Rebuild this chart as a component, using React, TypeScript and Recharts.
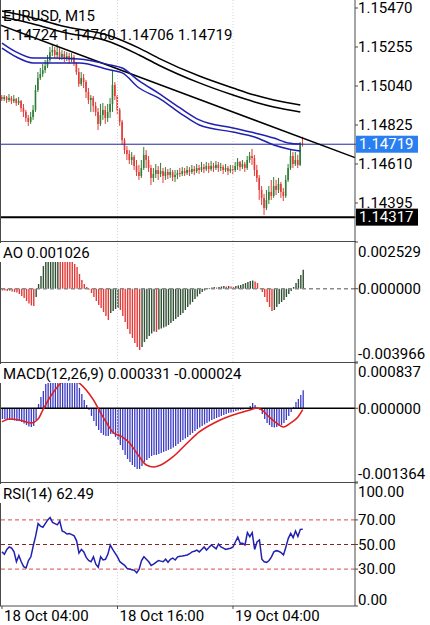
import React from 'react';
import { ComposedChart, Bar, Line, XAxis, YAxis, ReferenceLine, Cell } from 'recharts';

// EURUSD M15, bar 0 = 18 Oct 04:00
const closes = [
  1.14968, 1.14979, 1.14963, 1.14974, 1.14957, 1.14968, 1.14946, 1.14957, 1.14919, 1.14897,
  1.14864, 1.14842, 1.14869, 1.14908, 1.15018, 1.15084, 1.15106, 1.15128, 1.15150, 1.15183,
  1.15227, 1.15238, 1.15211, 1.15227, 1.15200, 1.15216, 1.15194, 1.15205, 1.15183, 1.15200,
  1.15167, 1.15117, 1.15051, 1.15084, 1.15062, 1.15007, 1.14963, 1.14974, 1.14930, 1.14897,
  1.14831, 1.14880, 1.14908, 1.14864, 1.14897, 1.14941, 1.15046, 1.14985, 1.14908, 1.14842,
  1.14742, 1.14687, 1.14665, 1.14632, 1.14649, 1.14599, 1.14566, 1.14544, 1.14588, 1.14660,
  1.14632, 1.14588, 1.14533, 1.14555, 1.14577, 1.14555, 1.14571, 1.14544, 1.14566, 1.14549,
  1.14566, 1.14538, 1.14549, 1.14560, 1.14555, 1.14571, 1.14560, 1.14577, 1.14566, 1.14582,
  1.14571, 1.14588, 1.14577, 1.14593, 1.14582, 1.14599, 1.14582, 1.14599, 1.14588, 1.14605,
  1.14588, 1.14593, 1.14577, 1.14588, 1.14571, 1.14582, 1.14577, 1.14599, 1.14621, 1.14593,
  1.14610, 1.14588, 1.14632, 1.14654, 1.14643, 1.14577, 1.14533, 1.14467, 1.14423, 1.14367,
  1.14412, 1.14456, 1.14434, 1.14489, 1.14467, 1.14500, 1.14456, 1.14434, 1.14522, 1.14588,
  1.14654, 1.14610, 1.14632, 1.14605, 1.14724, 1.14719,
];
const highs = [
  1.14990, 1.14990, 1.14985, 1.14996, 1.14985, 1.14990, 1.14974, 1.14979, 1.14963, 1.14941,
  1.14908, 1.14880, 1.14897, 1.14935, 1.15046, 1.15117, 1.15139, 1.15161, 1.15183, 1.15211,
  1.15255, 1.15266, 1.15255, 1.15271, 1.15249, 1.15238, 1.15233, 1.15227, 1.15222, 1.15222,
  1.15211, 1.15172, 1.15139, 1.15117, 1.15106, 1.15073, 1.15029, 1.14990, 1.14985, 1.14952,
  1.14919, 1.14941, 1.14946, 1.14930, 1.14941, 1.14974, 1.15128, 1.15062, 1.14990, 1.14919,
  1.14853, 1.14753, 1.14709, 1.14687, 1.14676, 1.14660, 1.14632, 1.14605, 1.14632, 1.14704,
  1.14687, 1.14654, 1.14605, 1.14588, 1.14610, 1.14599, 1.14616, 1.14588, 1.14593, 1.14582,
  1.14588, 1.14577, 1.14577, 1.14577, 1.14588, 1.14593, 1.14588, 1.14599, 1.14593, 1.14605,
  1.14599, 1.14610, 1.14605, 1.14621, 1.14610, 1.14621, 1.14616, 1.14627, 1.14616, 1.14627,
  1.14621, 1.14616, 1.14605, 1.14610, 1.14599, 1.14605, 1.14605, 1.14621, 1.14643, 1.14627,
  1.14632, 1.14621, 1.14654, 1.14676, 1.14693, 1.14660, 1.14605, 1.14549, 1.14489, 1.14445,
  1.14467, 1.14489, 1.14522, 1.14538, 1.14522, 1.14533, 1.14511, 1.14478, 1.14549, 1.14610,
  1.14687, 1.14676, 1.14676, 1.14660, 1.14731, 1.14760,
];
const lows = [
  1.14957, 1.14957, 1.14946, 1.14952, 1.14941, 1.14946, 1.14930, 1.14935, 1.14897, 1.14869,
  1.14842, 1.14820, 1.14831, 1.14853, 1.14897, 1.15007, 1.15073, 1.15090, 1.15112, 1.15139,
  1.15172, 1.15205, 1.15194, 1.15194, 1.15183, 1.15183, 1.15172, 1.15178, 1.15161, 1.15172,
  1.15150, 1.15101, 1.15035, 1.15040, 1.15029, 1.14974, 1.14941, 1.14897, 1.14897, 1.14875,
  1.14797, 1.14820, 1.14853, 1.14831, 1.14842, 1.14864, 1.14897, 1.14963, 1.14886, 1.14820,
  1.14715, 1.14665, 1.14632, 1.14610, 1.14605, 1.14577, 1.14544, 1.14522, 1.14533, 1.14577,
  1.14588, 1.14566, 1.14494, 1.14511, 1.14533, 1.14522, 1.14538, 1.14505, 1.14522, 1.14527,
  1.14533, 1.14516, 1.14511, 1.14527, 1.14538, 1.14544, 1.14544, 1.14549, 1.14544, 1.14555,
  1.14549, 1.14560, 1.14555, 1.14566, 1.14560, 1.14571, 1.14560, 1.14571, 1.14566, 1.14577,
  1.14566, 1.14571, 1.14555, 1.14566, 1.14549, 1.14560, 1.14555, 1.14566, 1.14577, 1.14571,
  1.14582, 1.14566, 1.14577, 1.14616, 1.14605, 1.14544, 1.14511, 1.14412, 1.14384, 1.14329,
  1.14356, 1.14389, 1.14412, 1.14423, 1.14439, 1.14450, 1.14423, 1.14406, 1.14423, 1.14511,
  1.14577, 1.14588, 1.14599, 1.14588, 1.14599, 1.14706,
];
const firstOpen = 1.14979;

// moving averages, read at a few bars
const blueIdx = [0, 6, 13, 20, 32, 45, 50, 57, 65, 74, 82, 96, 105, 113, 119, 124];
const blueUpper = [1.15277, 1.15227, 1.15194, 1.15194, 1.15189, 1.15156, 1.15139, 1.15068, 1.15001, 1.14919, 1.14853, 1.14808, 1.14781, 1.14753, 1.14726, 1.1472];
const blueLower = [1.15249, 1.152, 1.15167, 1.15167, 1.15167, 1.15128, 1.15112, 1.15029, 1.14974, 1.14891, 1.14825, 1.14786, 1.14759, 1.14715, 1.14693, 1.14682];
const blackIdx = [0, 13, 25, 45, 57, 65, 82, 96, 105, 113, 124];
const blackUpper = [1.15453, 1.15415, 1.15371, 1.15316, 1.15249, 1.15194, 1.15095, 1.15029, 1.1499, 1.14963, 1.14935];
const blackLower = [1.1542, 1.15382, 1.15338, 1.15283, 1.15211, 1.15156, 1.15057, 1.1499, 1.14952, 1.14924, 1.14897];

const bidPrice = 1.14719;
const levelPrice = 1.14317;
const trendFrom = 1.15376;
const trendTo = 1.14645;
const priceTicks = [1.1547, 1.15255, 1.1504, 1.14825, 1.1461, 1.14395];

const aoValues = [
  -0.000097, -0.000097, -0.000124, -0.000097, -0.000151, -0.000179, -0.000206, -0.000287, -0.000395, -0.000503,
  -0.000665, -0.000801, -0.000909, -0.000936, -0.000449, 0.000254, 0.000687, 0.001228, 0.001661, 0.001985,
  0.002202, 0.00231, 0.002337, 0.002364, 0.002256, 0.002094, 0.001931, 0.001769, 0.001607, 0.001445,
  0.001337, 0.001175, 0.000798, 0.000471, 0.000254, 0.000092, -0.000043, -0.000233, -0.000449, -0.000665,
  -0.000882, -0.001044, -0.001261, -0.001477, -0.001693, -0.001315, -0.001207, -0.001098, -0.001044, -0.001152,
  -0.001477, -0.001802, -0.00218, -0.002451, -0.002667, -0.002938, -0.003154, -0.003317, -0.003154, -0.002884,
  -0.002722, -0.00256, -0.002424, -0.002315, -0.002343, -0.002207, -0.002153, -0.002099, -0.002045, -0.001964,
  -0.001856, -0.001748, -0.001639, -0.001531, -0.001423, -0.001315, -0.001152, -0.00099, -0.000855, -0.00072,
  -0.000557, -0.000422, -0.000287, -0.000179, -0.000097, -0.000016, 0.000038, 0.000065, 0.000092, 0.000065,
  0.000092, 0.000119, 0.000146, 0.000119, 0.000146, 0.000119, 0.000092, 0.000146, 0.000173, 0.0002,
  0.000254, 0.000308, 0.000362, 0.000417, 0.000444, 0.00039, 0.000308, 0.000011, -0.000179, -0.000449,
  -0.00072, -0.00099, -0.001207, -0.001152, -0.00099, -0.000828, -0.00072, -0.000611, -0.000449, -0.000287,
  -0.000124, 0.000092, 0.000308, 0.000525, 0.000741, 0.001026,
];
const aoTicks = [0.002529, 0, -0.003966];

const macdValues = [
  -0.000198, -0.000198, -0.000207, -0.000216, -0.000216, -0.000226, -0.000235, -0.000235, -0.000253, -0.000281,
  -0.000309, -0.000337, -0.000346, -0.000327, -0.000216, 0.00008, 0.000209, 0.00032, 0.00045, 0.000542,
  0.000616, 0.000672, 0.000709, 0.000727, 0.000727, 0.000709, 0.00069, 0.000653, 0.000616, 0.000579,
  0.000523, 0.000468, 0.000376, 0.000265, 0.000154, 0.000061, -0.000031, -0.000142, -0.000235, -0.000327,
  -0.000401, -0.000457, -0.000494, -0.000512, -0.000512, -0.000475, -0.000475, -0.000531, -0.000586, -0.000679,
  -0.000771, -0.000864, -0.000938, -0.000993, -0.001049, -0.001086, -0.001123, -0.001123, -0.001067, -0.000993,
  -0.000956, -0.000919, -0.000882, -0.000864, -0.000864, -0.000845, -0.000827, -0.000808, -0.00079, -0.000771,
  -0.000753, -0.000725, -0.000697, -0.00066, -0.000623, -0.000586, -0.000559, -0.000531, -0.000494, -0.000457,
  -0.00042, -0.000383, -0.000355, -0.000327, -0.0003, -0.000272, -0.000244, -0.000216, -0.000198, -0.000179,
  -0.000161, -0.000142, -0.000124, -0.000105, -0.000087, -0.000078, -0.000068, -0.00005, -0.000041, -0.000031,
  -0.000022, -0.000013, -0.000004, 0.000043, 0.000098, 0.000061, 0.000006, -0.000031, -0.000105, -0.000198,
  -0.000272, -0.000309, -0.000346, -0.000355, -0.000346, -0.000327, -0.000309, -0.000272, -0.000216, -0.000142,
  -0.000068, 0.000024, 0.000117, 0.000172, 0.000246, 0.000331,
];
const signalIdx = [0, 3, 7, 12, 15, 17, 20, 23, 25, 28, 32, 35, 38, 41, 44, 46, 50, 53, 56, 60, 63, 66, 71, 77, 82, 89, 96, 103, 106, 108, 111, 114, 117, 120, 123, 125];
const signalValues = [
  -0.000253, -0.000198, -0.000216, -0.000272, -0.000198, -0.000031, 0.000209, 0.000394, 0.000487, 0.000542,
  0.000468, 0.000339, 0.000154, -0.000087, -0.000309, -0.000438, -0.000531, -0.000642, -0.000827, -0.001049,
  -0.001086, -0.001049, -0.000901, -0.000642, -0.000438, -0.000253, -0.000124, -0.000031, 0.000006, -0.000031,
  -0.000161, -0.000272, -0.000346, -0.000272, -0.000161, -0.000024,
];
const macdTicks = [0.000837, 0, -0.001364];

const rsiValues = [
  44, 42, 46, 48, 47, 44, 36, 41, 36, 32,
  31, 37, 40, 49, 57, 67, 65, 64, 67, 70,
  72, 68, 67, 66, 69, 61, 60, 58.5, 59, 58,
  57, 53, 43, 46, 44, 39.5, 37, 36, 40, 34,
  31.5, 40, 37.5, 38, 42, 49.6, 46, 43, 40, 36,
  34.5, 33, 30.6, 30, 29.5, 29, 27, 30, 37, 40,
  38, 36, 33, 34, 35.5, 37, 36.5, 36, 38, 35.5,
  38, 39, 37.4, 40, 40.5, 40.7, 41, 41.5, 42.5, 44,
  44.5, 45.5, 44, 46, 48, 45.5, 47.5, 49.6, 48, 46.5,
  50.4, 48, 47, 46, 46.5, 47, 48, 52, 56, 51,
  51, 49.6, 59.6, 56.3, 59.6, 46, 52, 53.7, 38, 36,
  35.5, 37, 40, 44, 45, 44.5, 43.4, 41.5, 48, 55,
  59, 55.5, 61, 56.5, 62.3, 62.49,
];
const rsiTicks = [100, 70, 50, 30, 0];

const timeTicks = [0, 48, 96];
const timeLabels = ['18 Oct 04:00', '18 Oct 16:00', '19 Oct 04:00'];

const FONT = 'Roboto, "Noto Sans", sans-serif';
const AXIS = '#4a4a4a';
const BULL = '#2e7d32';
const BEAR = '#e53935';
const AO_UP = '#2f4f33';
const BLUE = '#2121b0';
const X_DOMAIN = [-0.831, 146.72];
const M = { top: 0, right: 0, bottom: 0, left: 0 };

const pick = (idx: number[], vals: number[], i: number) => {
  const k = idx.indexOf(i);
  return k < 0 ? null : vals[k];
};

const priceRows = closes.map((c, i) => ({
  i,
  open: i === 0 ? firstOpen : closes[i - 1],
  high: highs[i],
  low: lows[i],
  close: c,
  bu: pick(blueIdx, blueUpper, i),
  bl: pick(blueIdx, blueLower, i),
  ku: pick(blackIdx, blackUpper, i),
  kl: pick(blackIdx, blackLower, i),
}));
const aoRows = aoValues.map((v, i) => ({ i, ao: v }));
const macdRows = macdValues.map((v, i) => ({ i, macd: v, signal: pick(signalIdx, signalValues, i) }));
const rsiRows = rsiValues.map((v, i) => ({ i, rsi: v }));

const Candle = (props: any) => {
  const { x, y, width, height, payload } = props;
  if (x == null || !payload) return null;
  const { open, close, high, low } = payload;
  const k = high > low ? height / (high - low) : 0;
  const yo = y + (high - open) * k;
  const yc = y + (high - close) * k;
  const col = close >= open ? BULL : BEAR;
  const cx = x + width / 2;
  return (
    <g>
      <line x1={cx} x2={cx} y1={y} y2={y + height} stroke={col} strokeWidth={1} />
      <rect x={cx - 0.8} y={Math.min(yo, yc)} width={1.6} height={Math.max(1, Math.abs(yc - yo))} fill={col} />
    </g>
  );
};

const PriceTick = (props: any) => {
  const { x, y, payload } = props;
  const v = payload.value;
  if (v === bidPrice || v === levelPrice) {
    return (
      <g>
        <rect x={x - 2} y={y - 8.5} width={62} height={17} fill={v === bidPrice ? '#2a7ff0' : '#000'} />
        <text x={x + 1} y={y} dy="0.35em" fill="#fff" fontSize={15} fontFamily={FONT}>{v.toFixed(5)}</text>
      </g>
    );
  }
  return <text x={x} y={y} dy="0.35em" fill="#000" fontSize={15} fontFamily={FONT}>{v.toFixed(5)}</text>;
};

const edgeTick = (lo: number, hi: number, digits: number, dTop: number, dBottom: number) => (props: any) => {
  const { x, y, payload } = props;
  const v = payload.value;
  const d = v === hi ? dTop : v === lo ? dBottom : 0;
  return <text x={x} y={y + d} dy="0.35em" fill="#000" fontSize={15} fontFamily={FONT}>{v.toFixed(digits)}</text>;
};

const TimeTick = (props: any) => {
  const { x, y, payload } = props;
  const k = timeTicks.indexOf(payload.value);
  return <text x={x + 2} y={y + 7} dy="0.35em" fill="#000" fontSize={15} fontFamily={FONT}>{timeLabels[k]}</text>;
};

const yAxisBase = {
  orientation: 'right' as const,
  width: 75,
  type: 'number' as const,
  allowDataOverflow: true,
  interval: 0,
  tickSize: 3,
  tickMargin: 0,
  axisLine: { stroke: AXIS },
  tickLine: { stroke: AXIS },
};

const grid = timeTicks.slice(1).map((t) => (
  <ReferenceLine key={'g' + t} x={t} stroke="#d6d6d6" strokeDasharray="1 2" />
));

const hLine = (top: number) => (
  <div style={{ position: 'absolute', left: 0, top, width: 356, height: 1, background: AXIS }} />
);

const label = (top: number, text: string, bg: boolean) => (
  <div
    style={{
      position: 'absolute', left: 0, top, paddingLeft: 3, paddingRight: 3, paddingTop: 2,
      lineHeight: '17px', fontSize: 15, fontFamily: FONT, color: '#000',
      background: bg ? '#fff' : 'transparent', whiteSpace: 'nowrap',
    }}
  >
    {text}
  </div>
);

export default function App() {
  return (
    <div style={{ position: 'absolute', left: 0, top: 0, width: 430, height: 625, background: '#fff', overflow: 'hidden' }}>
      <style>{'.recharts-surface { overflow: visible; }'}</style>
      <div style={{ position: 'absolute', left: 0, top: 0 }}>
        <ComposedChart width={430} height={241} data={priceRows} margin={M}>
          <XAxis type="number" dataKey="i" domain={X_DOMAIN} hide allowDataOverflow />
          <YAxis {...yAxisBase} domain={[1.141855, 1.155141]} ticks={[...priceTicks, bidPrice, levelPrice]} tick={PriceTick} />
          {grid}
          <ReferenceLine y={levelPrice} stroke="#000" strokeWidth={2} />
          <Bar dataKey={(d: any) => [d.low, d.high]} shape={Candle} barSize={2} isAnimationActive={false} />
          <ReferenceLine y={bidPrice} stroke="#1c2a9c" strokeWidth={1} />
          <ReferenceLine segment={[{ x: X_DOMAIN[0], y: trendFrom }, { x: X_DOMAIN[1], y: trendTo }]} stroke="#000" strokeWidth={1.5} />
          <Line dataKey="ku" type="monotone" stroke="#000" strokeWidth={1.5} dot={false} connectNulls isAnimationActive={false} />
          <Line dataKey="kl" type="monotone" stroke="#000" strokeWidth={1.5} dot={false} connectNulls isAnimationActive={false} />
          <Line dataKey="bu" type="monotone" stroke={BLUE} strokeWidth={1.5} dot={false} connectNulls isAnimationActive={false} />
          <Line dataKey="bl" type="monotone" stroke={BLUE} strokeWidth={1.5} dot={false} connectNulls isAnimationActive={false} />
        </ComposedChart>
      </div>

      <div style={{ position: 'absolute', left: 0, top: 242 }}>
        <ComposedChart width={430} height={120} data={aoRows} margin={M}>
          <XAxis type="number" dataKey="i" domain={X_DOMAIN} hide allowDataOverflow />
          <YAxis {...yAxisBase} domain={[-0.003966, 0.002529]} ticks={aoTicks} tick={edgeTick(-0.003966, 0.002529, 6, 10, -8)} />
          {grid}
          <ReferenceLine y={0} stroke="#8a8a8a" strokeWidth={1.5} strokeDasharray="4 3" />
          <Bar dataKey="ao" barSize={1.4} isAnimationActive={false}>
            {aoValues.map((v, i) => (
              <Cell key={i} fill={i > 0 && v > aoValues[i - 1] ? AO_UP : BEAR} />
            ))}
          </Bar>
        </ComposedChart>
      </div>

      <div style={{ position: 'absolute', left: 0, top: 363 }}>
        <ComposedChart width={430} height={119} data={macdRows} margin={M}>
          <XAxis type="number" dataKey="i" domain={X_DOMAIN} hide allowDataOverflow />
          <YAxis {...yAxisBase} domain={[-0.001364, 0.000837]} ticks={macdTicks} tick={edgeTick(-0.001364, 0.000837, 6, 9, -8)} />
          {grid}
          <Bar dataKey="macd" fill="#3a3ac4" barSize={1.3} isAnimationActive={false} />
          <ReferenceLine y={0} stroke="#000" strokeWidth={1.5} />
          <Line dataKey="signal" type="monotone" stroke="#e02020" strokeWidth={1.6} dot={false} connectNulls isAnimationActive={false} />
        </ComposedChart>
      </div>

      <div style={{ position: 'absolute', left: 0, top: 483 }}>
        <ComposedChart width={430} height={142} data={rsiRows} margin={M}>
          <XAxis
            type="number" dataKey="i" domain={X_DOMAIN} allowDataOverflow height={19}
            ticks={timeTicks} interval={0} tick={TimeTick} tickSize={3} tickMargin={0}
            axisLine={{ stroke: AXIS }} tickLine={{ stroke: AXIS }}
          />
          <YAxis {...yAxisBase} domain={[0, 100]} ticks={rsiTicks} tick={edgeTick(0, 100, 2, 9, -6)} />
          {grid}
          <ReferenceLine y={70} stroke="#d94848" strokeDasharray="4 3" />
          <ReferenceLine y={50} stroke="#8b2020" strokeDasharray="4 3" />
          <ReferenceLine y={30} stroke="#d94848" strokeDasharray="4 3" />
          <Line dataKey="rsi" type="linear" stroke={BLUE} strokeWidth={1.5} dot={false} isAnimationActive={false} />
        </ComposedChart>
      </div>

      {hLine(241)}
      {hLine(362)}
      {hLine(482)}
      <div style={{ position: 'absolute', left: 0, top: 0, width: 1, height: 606, background: AXIS }} />

      {label(6, 'EURUSD, M15', false)}
      {label(25, '1.14724 1.14760 1.14706 1.14719', false)}
      {label(243, 'AO 0.001026', true)}
      {label(364, 'MACD(12,26,9) 0.000331 -0.000024', true)}
      {label(484, 'RSI(14) 62.49', true)}
    </div>
  );
}
